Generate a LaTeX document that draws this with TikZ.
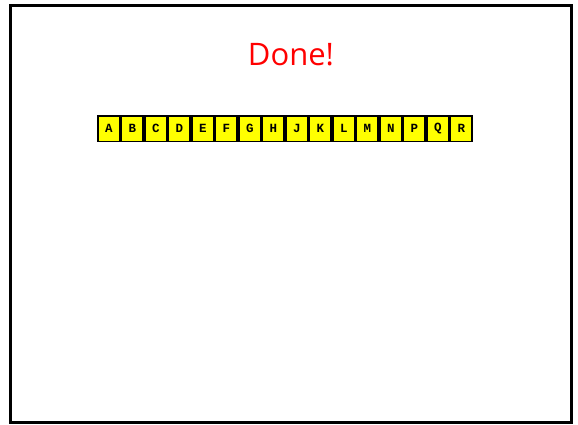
\documentclass[tikz,border=0pt]{standalone}
\usepackage{fontspec}
\setmainfont{Open Sans}
\newfontfamily\monob{Liberation Mono}[BoldFont={Liberation Mono Bold}]
\definecolor{boxyellow}{RGB}{255,255,0}
\definecolor{donered}{RGB}{255,0,0}
\begin{document}
\begin{tikzpicture}[x=1pt,y=-1pt,
  letterbox/.style={draw=black, line width=1.7pt, fill=boxyellow, minimum width=21.8pt, minimum height=25.5pt, inner sep=0pt, font=\monob\bfseries\fontsize{12.5}{12.5}\selectfont, anchor=north west},
  title/.style={text=donered, font=\fontsize{31}{31}\selectfont, inner sep=0pt}]
\useasboundingbox (0,0) rectangle (578,424);
\draw[line width=3pt] (10,5) rectangle (571,422);
\node[title] (done) at (291,55) {Done!};
\foreach \l [count=\i from 0] in {A,B,C,D,E,F,G,H,J,K,L,M,N,P,Q,R} {
  \node[letterbox] (b\i) at ({97+\i*23.5},115) {\l};
}
\end{tikzpicture}
\end{document}
